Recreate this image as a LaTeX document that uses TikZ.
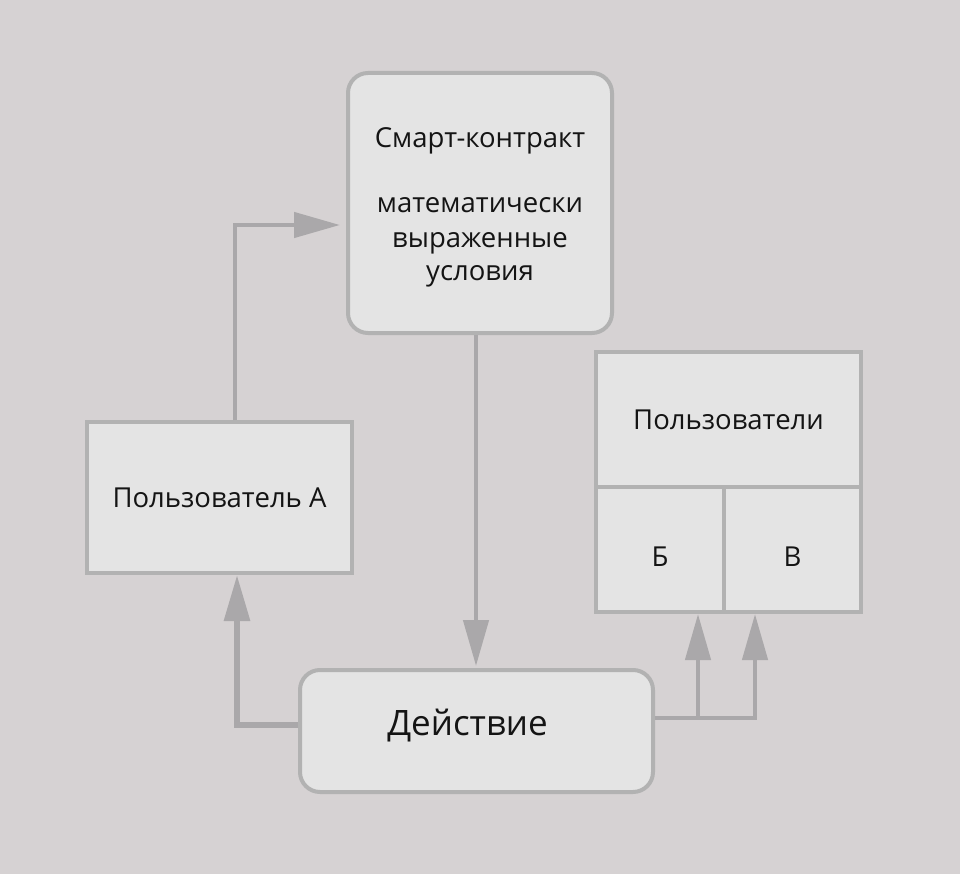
\documentclass[tikz,border=0pt]{standalone}
\usepackage{fontspec}
\setmainfont{Open Sans}
\usetikzlibrary{arrows.meta}
\definecolor{bgc}{RGB}{214,210,211}
\definecolor{boxfill}{RGB}{228,228,228}
\definecolor{boxline}{RGB}{178,178,178}
\definecolor{arrc}{RGB}{170,168,170}
\definecolor{txt}{RGB}{20,20,20}
\newcommand{\mydown}[2]{\raisebox{0pt}[\dimexpr\height+#1\relax]{#2}}
\newcommand{\myup}[2]{\raisebox{0pt}[\height][\dimexpr\depth+#1\relax]{#2}}
\tikzset{
  box/.style={draw=boxline, fill=boxfill, line width=4pt, text=txt, inner sep=0pt, font=\fontsize{27.5}{34}\selectfont, align=center},
  rbox/.style={box, rounded corners=20pt},
  conn/.style={draw=arrc, line width=4.5pt, -{Triangle[length=46pt,width=25pt]}, arrc}
}
\begin{document}
\begin{tikzpicture}[x=1pt,y=-1pt]
\fill[bgc] (0,0) rectangle (960,874);
\useasboundingbox (0,0) rectangle (960,874);
\node[rbox, minimum width=264pt, minimum height=260pt] (smart) at (480,203)
  {\mydown{8pt}{Смарт-контракт}\\[31pt]математически\\[1pt]выраженные\\[-1pt]условия};
\node[box, minimum width=265pt, minimum height=151pt] (userA) at (219.5,497.5) {Пользователь А};
\node[box, minimum width=265pt, minimum height=135pt] (users) at (728.5,419.5) {Пользователи};
\node[box, minimum width=128pt, minimum height=125pt] (ub) at (660,549.5) {\mydown{14pt}{Б}};
\node[box, minimum width=137pt, minimum height=125pt] (uv) at (792.5,549.5) {\mydown{14pt}{В}};
\node[rbox, minimum width=353pt, minimum height=122pt, font=\fontsize{35}{40}\selectfont] (act) at (476.5,731) {\hspace*{-18pt}\myup{10pt}{Действие}};
\coordinate (a1) at (235,0);
\coordinate (a2) at (476,0);
\coordinate (a3) at (237,0);
\coordinate (a4) at (698,0);
\coordinate (a5) at (755,0);
\draw[conn, shorten >=6pt] (userA.north -| a1) |- ([yshift=-22pt]smart.west);
\draw[conn, shorten >=2pt] (smart.south -| a2) -- (act.north -| a2);
\draw[conn, line width=6pt, shorten >=0pt] ([yshift=6pt]act.west) -| (userA.south -| a3);
\draw[conn] ([yshift=13pt]act.east) -| (ub.south -| a4);
\draw[conn] ([yshift=13pt]act.east) -| (uv.south -| a5);
\end{tikzpicture}
\end{document}
